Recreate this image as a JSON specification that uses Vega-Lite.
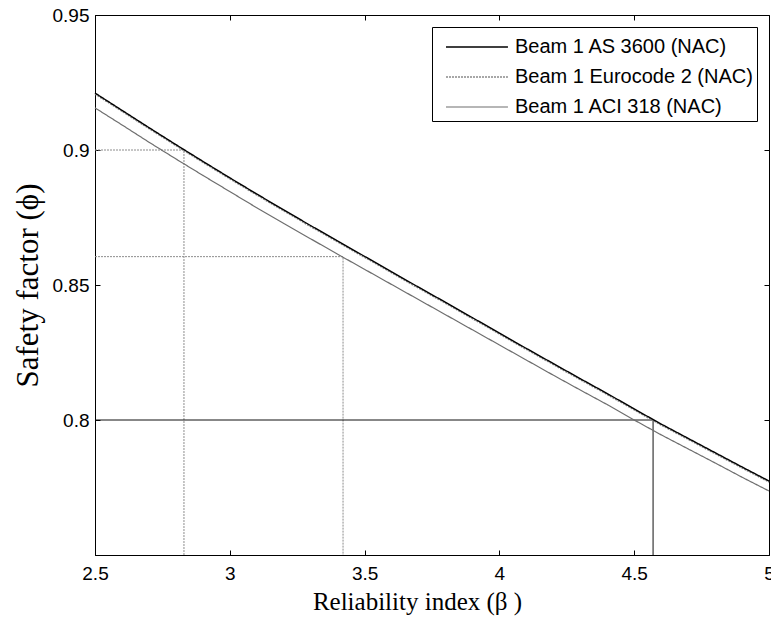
{
  "$schema": "https://vega.github.io/schema/vega-lite/v6.json",
  "width": 674,
  "height": 540,
  "autosize": {"type": "none"},
  "padding": {"left": 95, "top": 15, "right": 2, "bottom": 65},
  "background": "white",
  "config": {
    "view": {"stroke": "#000", "strokeWidth": 1},
    "font": "Liberation Sans",
    "axis": {
      "domainColor": "#000",
      "tickColor": "#000",
      "labelColor": "#000",
      "titleColor": "#000",
      "grid": false,
      "labelFont": "Liberation Sans",
      "labelFontSize": 19,
      "titleFont": "Liberation Serif",
      "titleFontSize": 25,
      "titleFontWeight": "normal",
      "tickSize": -5,
      "format": "~g"
    }
  },
  "datasets": {
    "series": [
      {"b": 2.5, "v": 0.9156, "s": "Beam 1 ACI 318 (NAC)"},
      {"b": 2.6, "v": 0.9093, "s": "Beam 1 ACI 318 (NAC)"},
      {"b": 2.7, "v": 0.9029, "s": "Beam 1 ACI 318 (NAC)"},
      {"b": 2.8, "v": 0.8967, "s": "Beam 1 ACI 318 (NAC)"},
      {"b": 2.9, "v": 0.8906, "s": "Beam 1 ACI 318 (NAC)"},
      {"b": 3.0, "v": 0.8846, "s": "Beam 1 ACI 318 (NAC)"},
      {"b": 3.1, "v": 0.8786, "s": "Beam 1 ACI 318 (NAC)"},
      {"b": 3.2, "v": 0.8728, "s": "Beam 1 ACI 318 (NAC)"},
      {"b": 3.3, "v": 0.8671, "s": "Beam 1 ACI 318 (NAC)"},
      {"b": 3.4, "v": 0.8614, "s": "Beam 1 ACI 318 (NAC)"},
      {"b": 3.5, "v": 0.8558, "s": "Beam 1 ACI 318 (NAC)"},
      {"b": 3.6, "v": 0.8502, "s": "Beam 1 ACI 318 (NAC)"},
      {"b": 3.7, "v": 0.8446, "s": "Beam 1 ACI 318 (NAC)"},
      {"b": 3.8, "v": 0.8390, "s": "Beam 1 ACI 318 (NAC)"},
      {"b": 3.9, "v": 0.8334, "s": "Beam 1 ACI 318 (NAC)"},
      {"b": 4.0, "v": 0.8278, "s": "Beam 1 ACI 318 (NAC)"},
      {"b": 4.1, "v": 0.8222, "s": "Beam 1 ACI 318 (NAC)"},
      {"b": 4.2, "v": 0.8166, "s": "Beam 1 ACI 318 (NAC)"},
      {"b": 4.3, "v": 0.8111, "s": "Beam 1 ACI 318 (NAC)"},
      {"b": 4.4, "v": 0.8057, "s": "Beam 1 ACI 318 (NAC)"},
      {"b": 4.5, "v": 0.8000, "s": "Beam 1 ACI 318 (NAC)"},
      {"b": 4.6, "v": 0.7945, "s": "Beam 1 ACI 318 (NAC)"},
      {"b": 4.7, "v": 0.7893, "s": "Beam 1 ACI 318 (NAC)"},
      {"b": 4.8, "v": 0.7841, "s": "Beam 1 ACI 318 (NAC)"},
      {"b": 4.9, "v": 0.7788, "s": "Beam 1 ACI 318 (NAC)"},
      {"b": 5.0, "v": 0.7737, "s": "Beam 1 ACI 318 (NAC)"},
      {"b": 2.5, "v": 0.9207, "s": "Beam 1 Eurocode 2 (NAC)"},
      {"b": 2.6, "v": 0.9143, "s": "Beam 1 Eurocode 2 (NAC)"},
      {"b": 2.7, "v": 0.9079, "s": "Beam 1 Eurocode 2 (NAC)"},
      {"b": 2.8, "v": 0.9016, "s": "Beam 1 Eurocode 2 (NAC)"},
      {"b": 2.9, "v": 0.8954, "s": "Beam 1 Eurocode 2 (NAC)"},
      {"b": 3.0, "v": 0.8893, "s": "Beam 1 Eurocode 2 (NAC)"},
      {"b": 3.1, "v": 0.8833, "s": "Beam 1 Eurocode 2 (NAC)"},
      {"b": 3.2, "v": 0.8774, "s": "Beam 1 Eurocode 2 (NAC)"},
      {"b": 3.3, "v": 0.8716, "s": "Beam 1 Eurocode 2 (NAC)"},
      {"b": 3.4, "v": 0.8659, "s": "Beam 1 Eurocode 2 (NAC)"},
      {"b": 3.5, "v": 0.8602, "s": "Beam 1 Eurocode 2 (NAC)"},
      {"b": 3.6, "v": 0.8545, "s": "Beam 1 Eurocode 2 (NAC)"},
      {"b": 3.7, "v": 0.8488, "s": "Beam 1 Eurocode 2 (NAC)"},
      {"b": 3.8, "v": 0.8432, "s": "Beam 1 Eurocode 2 (NAC)"},
      {"b": 3.9, "v": 0.8375, "s": "Beam 1 Eurocode 2 (NAC)"},
      {"b": 4.0, "v": 0.8318, "s": "Beam 1 Eurocode 2 (NAC)"},
      {"b": 4.1, "v": 0.8261, "s": "Beam 1 Eurocode 2 (NAC)"},
      {"b": 4.2, "v": 0.8205, "s": "Beam 1 Eurocode 2 (NAC)"},
      {"b": 4.3, "v": 0.8149, "s": "Beam 1 Eurocode 2 (NAC)"},
      {"b": 4.4, "v": 0.8094, "s": "Beam 1 Eurocode 2 (NAC)"},
      {"b": 4.5, "v": 0.8037, "s": "Beam 1 Eurocode 2 (NAC)"},
      {"b": 4.6, "v": 0.7981, "s": "Beam 1 Eurocode 2 (NAC)"},
      {"b": 4.7, "v": 0.7928, "s": "Beam 1 Eurocode 2 (NAC)"},
      {"b": 4.8, "v": 0.7875, "s": "Beam 1 Eurocode 2 (NAC)"},
      {"b": 4.9, "v": 0.7822, "s": "Beam 1 Eurocode 2 (NAC)"},
      {"b": 5.0, "v": 0.7770, "s": "Beam 1 Eurocode 2 (NAC)"},
      {"b": 2.5, "v": 0.9211, "s": "Beam 1 AS 3600 (NAC)"},
      {"b": 2.6, "v": 0.9147, "s": "Beam 1 AS 3600 (NAC)"},
      {"b": 2.7, "v": 0.9083, "s": "Beam 1 AS 3600 (NAC)"},
      {"b": 2.8, "v": 0.9020, "s": "Beam 1 AS 3600 (NAC)"},
      {"b": 2.9, "v": 0.8958, "s": "Beam 1 AS 3600 (NAC)"},
      {"b": 3.0, "v": 0.8897, "s": "Beam 1 AS 3600 (NAC)"},
      {"b": 3.1, "v": 0.8837, "s": "Beam 1 AS 3600 (NAC)"},
      {"b": 3.2, "v": 0.8778, "s": "Beam 1 AS 3600 (NAC)"},
      {"b": 3.3, "v": 0.8720, "s": "Beam 1 AS 3600 (NAC)"},
      {"b": 3.4, "v": 0.8663, "s": "Beam 1 AS 3600 (NAC)"},
      {"b": 3.5, "v": 0.8606, "s": "Beam 1 AS 3600 (NAC)"},
      {"b": 3.6, "v": 0.8549, "s": "Beam 1 AS 3600 (NAC)"},
      {"b": 3.7, "v": 0.8492, "s": "Beam 1 AS 3600 (NAC)"},
      {"b": 3.8, "v": 0.8436, "s": "Beam 1 AS 3600 (NAC)"},
      {"b": 3.9, "v": 0.8379, "s": "Beam 1 AS 3600 (NAC)"},
      {"b": 4.0, "v": 0.8322, "s": "Beam 1 AS 3600 (NAC)"},
      {"b": 4.1, "v": 0.8265, "s": "Beam 1 AS 3600 (NAC)"},
      {"b": 4.2, "v": 0.8209, "s": "Beam 1 AS 3600 (NAC)"},
      {"b": 4.3, "v": 0.8153, "s": "Beam 1 AS 3600 (NAC)"},
      {"b": 4.4, "v": 0.8098, "s": "Beam 1 AS 3600 (NAC)"},
      {"b": 4.5, "v": 0.8041, "s": "Beam 1 AS 3600 (NAC)"},
      {"b": 4.6, "v": 0.7985, "s": "Beam 1 AS 3600 (NAC)"},
      {"b": 4.7, "v": 0.7932, "s": "Beam 1 AS 3600 (NAC)"},
      {"b": 4.8, "v": 0.7879, "s": "Beam 1 AS 3600 (NAC)"},
      {"b": 4.9, "v": 0.7826, "s": "Beam 1 AS 3600 (NAC)"},
      {"b": 5.0, "v": 0.7774, "s": "Beam 1 AS 3600 (NAC)"}
    ],
    "refDotted": [
      {"g": "a", "i": 1, "b": 2.5, "v": 0.9},
      {"g": "a", "i": 2, "b": 2.83, "v": 0.9},
      {"g": "a", "i": 3, "b": 2.83, "v": 0.75},
      {"g": "b", "i": 1, "b": 2.5, "v": 0.8605},
      {"g": "b", "i": 2, "b": 3.42, "v": 0.8605},
      {"g": "b", "i": 3, "b": 3.42, "v": 0.75}
    ],
    "refSolid": [
      {"g": "c", "i": 1, "b": 2.5, "v": 0.8},
      {"g": "c", "i": 2, "b": 4.57, "v": 0.8},
      {"g": "c", "i": 3, "b": 4.57, "v": 0.75}
    ]
  },
  "resolve": {"axis": {"x": "independent", "y": "independent"}},
  "layer": [
    {
      "data": {"name": "refDotted"},
      "mark": {"type": "line", "stroke": "#8c8c8c", "strokeWidth": 1, "strokeDash": [2, 1]},
      "encoding": {
        "x": {"field": "b", "type": "quantitative", "scale": {"domain": [2.5, 5], "nice": false, "zero": false}, "axis": null},
        "y": {"field": "v", "type": "quantitative", "scale": {"domain": [0.75, 0.95], "nice": false, "zero": false}, "axis": null},
        "detail": {"field": "g"},
        "order": {"field": "i"}
      }
    },
    {
      "data": {"name": "refSolid"},
      "mark": {"type": "line", "stroke": "#111", "strokeWidth": 1},
      "encoding": {
        "x": {"field": "b", "type": "quantitative", "axis": {"orient": "top", "labels": false, "title": null, "domain": false, "values": [2.5, 3, 3.5, 4, 4.5, 5]}},
        "y": {"field": "v", "type": "quantitative", "axis": {"orient": "right", "labels": false, "title": null, "domain": false, "values": [0.8, 0.85, 0.9, 0.95]}},
        "detail": {"field": "g"},
        "order": {"field": "i"}
      }
    },
    {
      "data": {"name": "series"},
      "mark": {"type": "line"},
      "encoding": {
        "x": {"field": "b", "type": "quantitative", "title": "Reliability index (β )",
          "axis": {"values": [2.5, 3, 3.5, 4, 4.5, 5], "labelPadding": 14, "titlePadding": 6, "labelFlush": false, "titleX": 322}},
        "y": {"field": "v", "type": "quantitative", "title": "Safety factor (ϕ)",
          "axis": {"values": [0.8, 0.85, 0.9, 0.95], "labelPadding": 11, "titlePadding": 8, "titleFontSize": 31}},
        "color": {"field": "s", "type": "nominal",
          "scale": {"domain": ["Beam 1 AS 3600 (NAC)", "Beam 1 Eurocode 2 (NAC)", "Beam 1 ACI 318 (NAC)"], "range": ["#000000", "#8a8a8a", "#6e6e6e"]},
          "legend": {"title": null, "orient": "none", "legendX": 337, "legendY": 12, "strokeColor": "#000", "fillColor": "#fff", "padding": 4,
            "symbolType": "M-0.4,0H3.73", "symbolSize": 900, "symbolStrokeWidth": 1, "labelFont": "Liberation Sans", "labelFontSize": 20, "labelColor": "#000", "labelOffset": 47, "rowPadding": 4, "labelLimit": 400,
            "labelExpr": "datum.label + '\u2003'"}},
        "strokeDash": {"field": "s", "type": "nominal",
          "scale": {"domain": ["Beam 1 AS 3600 (NAC)", "Beam 1 Eurocode 2 (NAC)", "Beam 1 ACI 318 (NAC)"], "range": [[1, 0], [2, 1], [1, 0]]},
          "legend": null},
        "strokeWidth": {"field": "s", "type": "nominal",
          "scale": {"domain": ["Beam 1 AS 3600 (NAC)", "Beam 1 Eurocode 2 (NAC)", "Beam 1 ACI 318 (NAC)"], "range": [1.4, 1.2, 1]},
          "legend": null}
      }
    }
  ]
}
